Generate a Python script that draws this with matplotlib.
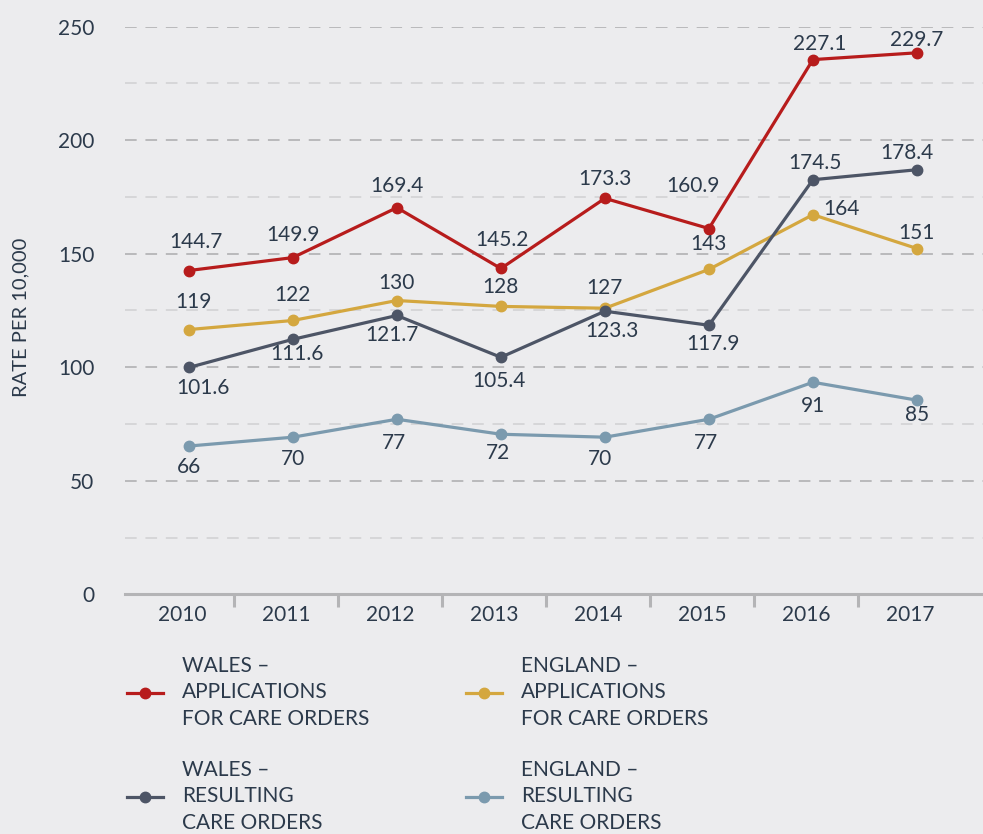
import matplotlib.pyplot as plt
from matplotlib.lines import Line2D

years = ['2010', '2011', '2012', '2013', '2014', '2015', '2016', '2017']

wales_app = [142.6, 148.3, 170.3, 143.5, 174.4, 161.1, 235.5, 238.5]
wales_app_lbl = ['144.7', '149.9', '169.4', '145.2', '173.3', '160.9', '227.1', '229.7']
england_app = [116.6, 120.6, 129.4, 126.8, 126.0, 143.1, 167.2, 152.3]
england_app_lbl = ['119', '122', '130', '128', '127', '143', '164', '151']
wales_res = [99.9, 112.3, 122.8, 104.4, 124.7, 118.5, 182.6, 187.0]
wales_res_lbl = ['101.6', '111.6', '121.7', '105.4', '123.3', '117.9', '174.5', '178.4']
england_res = [65.3, 69.2, 77.1, 70.5, 69.2, 77.1, 93.4, 85.5]
england_res_lbl = ['66', '70', '77', '72', '70', '77', '91', '85']

BG = '#ececee'
TXT = '#2c3a4b'
RED = '#b71c1c'
GOLD = '#d4a73f'
DARK = '#4d5566'
LIGHT = '#7b9aae'
FS = 15

plt.rcParams['font.family'] = ['Lato', 'DejaVu Sans']

fig = plt.figure(figsize=(9.83, 8.34), dpi=100, facecolor=BG)
ax = fig.add_axes([0.127, 0.2874, 0.873, 0.6806], facecolor=BG)

x = list(range(len(years)))

# label offsets in pixels (dx, dy), dy positive = up
off_wa = [(7, 29), (0, 23), (0, 22), (1, 28), (0, 19), (-16, 43), (7, 16), (0, 13)]
off_ea = [(5, 28), (0, 25), (0, 18), (0, 19), (0, 20), (0, 25), (29, 6), (0, 16)]
off_wr = [(14, -21), (4, -15), (-5, -20), (-2, -24), (7, -20), (4, -19), (2, 17), (-10, 17)]
off_er = [(0, -21), (0, -22), (-3, -24), (-3, -19), (-5, -22), (-3, -24), (0, -24), (0, -15)]

series = [
    (wales_app, wales_app_lbl, RED, off_wa),
    (england_app, england_app_lbl, GOLD, off_ea),
    (wales_res, wales_res_lbl, DARK, off_wr),
    (england_res, england_res_lbl, LIGHT, off_er),
]

for vals, lbls, col, offs in series:
    ax.plot(x, vals, color=col, lw=2.3, marker='o', ms=7.5, zorder=3, clip_on=False)
    for xi, v, s, (dx, dy) in zip(x, vals, lbls, offs):
        ax.annotate(s, (xi, v), xytext=(dx, dy), textcoords='offset pixels',
                    ha='center', va='center', fontsize=FS, color=TXT, zorder=4)

ax.set_ylim(0, 250)
ax.set_xlim(-0.615, 7.635)

# dashed grid: darker every 50, lighter in between
for yv in range(25, 251, 25):
    major = yv % 50 == 0
    ax.axhline(yv, color='#b9b9bb' if major else '#d6d6d8', lw=1.4,
               dashes=(6, 4.5), zorder=1)

ax.set_yticks(range(0, 251, 50))
ax.tick_params(axis='y', length=0, pad=22, labelsize=FS, labelcolor=TXT)

shift = -0.065
ax.set_xticks([i + shift for i in x])
ax.set_xticklabels(years)
ax.set_xticks([i + 0.5 + shift for i in x[:-1]], minor=True)
ax.tick_params(axis='x', which='major', length=0, pad=8, labelsize=FS, labelcolor=TXT)
ax.tick_params(axis='x', which='minor', length=9, width=2.2, color='#b4b4b6', direction='out')

for sp in ['top', 'right', 'left']:
    ax.spines[sp].set_visible(False)
ax.spines['bottom'].set_color('#b4b4b6')
ax.spines['bottom'].set_linewidth(2.2)

fig.text(0.0214, 0.620, 'RATE PER 10,000', rotation=90, ha='center', va='center',
         fontsize=14.5, color=TXT)

def handle(col):
    return Line2D([], [], color=col, lw=2.3, marker='o', ms=7.5)

leg_kw = dict(frameon=False, fontsize=FS, labelcolor=TXT, handlelength=1.75,
              handletextpad=0.9, labelspacing=1.5, loc='upper left')
legs = [
    fig.legend([handle(RED), handle(DARK)],
               ['WALES –\nAPPLICATIONS\nFOR CARE ORDERS', 'WALES –\nRESULTING\nCARE ORDERS'],
               bbox_to_anchor=(0.110, 0.236), **leg_kw),
    fig.legend([handle(GOLD), handle(LIGHT)],
               ['ENGLAND –\nAPPLICATIONS\nFOR CARE ORDERS', 'ENGLAND –\nRESULTING\nCARE ORDERS'],
               bbox_to_anchor=(0.455, 0.236), **leg_kw),
]
for leg in legs:
    for t in leg.get_texts():
        t.set_linespacing(1.40)

fig.savefig('out.png', dpi=100, facecolor=BG)
